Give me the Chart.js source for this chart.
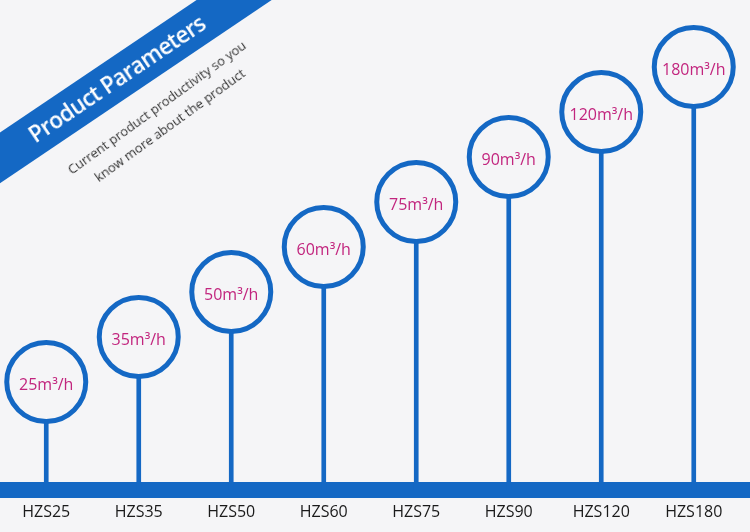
<!DOCTYPE html>
<html>
<head>
<meta charset="utf-8">
<title>Product Parameters</title>
<script src="https://cdn.jsdelivr.net/npm/chart.js@4.4.1/dist/chart.umd.min.js"></script>
<style>
    html, body {
        margin: 0;
        padding: 0;
        background: #f5f5f7;
    }
    #wrap {
        position: relative;
        width: 750px;
        height: 532px;
        overflow: hidden;
        background: #f5f5f7;
    }
    #ribbon {
        position: absolute;
        left: -133px;
        top: 58px;
        width: 500px;
        height: 42px;
        line-height: 42px;
        background: #1468c4;
        color: #fff;
        text-align: center;
        font-family: "Open Sans", "Noto Sans", sans-serif;
        font-weight: 600;
        font-size: 22.5px;
        letter-spacing: -0.6px;
        transform: rotate(-34deg);
    }
    #subtitle {
        position: absolute;
        left: 13px;
        top: 94px;
        width: 300px;
        text-align: center;
        font-family: "Open Sans", "Noto Sans", sans-serif;
        font-size: 13px;
        line-height: 22px;
        color: #333;
        transform: rotate(-36deg);
    }
</style>
</head>
<body>
<div id="wrap">
    <canvas id="param-chart"></canvas>
    <div id="ribbon">Product Parameters</div>
    <div id="subtitle">Current product productivity so you<br>know more about the product</div>
</div>
<script>
const models = ['HZS25', 'HZS35', 'HZS50', 'HZS60', 'HZS75', 'HZS90', 'HZS120', 'HZS180'];
const capacity = [25, 35, 50, 60, 75, 90, 120, 180];
// circles are stepped by rank, not by value
const levels = [1, 2, 3, 4, 5, 6, 7, 8];

const BLUE = '#1468c4';
const BG = '#f5f5f7';
const MAGENTA = '#c2257e';
const Y_MIN = -1.4;
const Y_MAX = 9.49;

const baseBar = {
    id: 'baseBar',
    beforeDatasetsDraw(chart) {
        const ctx = chart.ctx;
        const y = chart.chartArea.bottom;
        ctx.save();
        ctx.fillStyle = BLUE;
        ctx.fillRect(0, y - 8, chart.width, 16);
        ctx.restore();
    }
};

const circleLabels = {
    id: 'circleLabels',
    afterDatasetsDraw(chart) {
        const ctx = chart.ctx;
        const meta = chart.getDatasetMeta(1);
        ctx.save();
        ctx.fillStyle = MAGENTA;
        ctx.font = '16px "Open Sans", "Noto Sans", sans-serif';
        ctx.textAlign = 'center';
        ctx.textBaseline = 'middle';
        meta.data.forEach((pt, i) => {
            ctx.fillText(capacity[i] + 'm³/h', pt.x, pt.y + 3);
        });
        ctx.restore();
    }
};

const ctx = document.getElementById('param-chart').getContext('2d');
new Chart(ctx, {
    data: {
        labels: models,
        datasets: [
            {
                type: 'bar',
                data: levels,
                base: Y_MIN,
                backgroundColor: BLUE,
                barThickness: 4,
                order: 2
            },
            {
                type: 'line',
                data: levels,
                showLine: false,
                clip: false,
                pointRadius: 39.5,
                pointHoverRadius: 39.5,
                pointBorderWidth: 5,
                pointHoverBorderWidth: 5,
                pointBorderColor: BLUE,
                pointBackgroundColor: BG,
                order: 1
            }
        ]
    },
    options: {
        responsive: true,
        maintainAspectRatio: false,
        animation: false,
        events: [],
        layout: {
            autoPadding: false,
            padding: { left: 0, right: 10, top: 0, bottom: 11 }
        },
        plugins: {
            legend: { display: false },
            tooltip: { enabled: false }
        },
        scales: {
            x: {
                offset: true,
                grid: { display: false, drawTicks: false },
                border: { display: false },
                ticks: {
                    padding: 13,
                    color: '#1a1a1a',
                    font: { family: '"Open Sans", "Noto Sans", sans-serif', size: 16 }
                },
                afterFit(scale) {
                    scale.height = 31;
                }
            },
            y: {
                display: false,
                min: Y_MIN,
                max: Y_MAX
            }
        }
    },
    plugins: [baseBar, circleLabels]
});
</script>
</body>
</html>
